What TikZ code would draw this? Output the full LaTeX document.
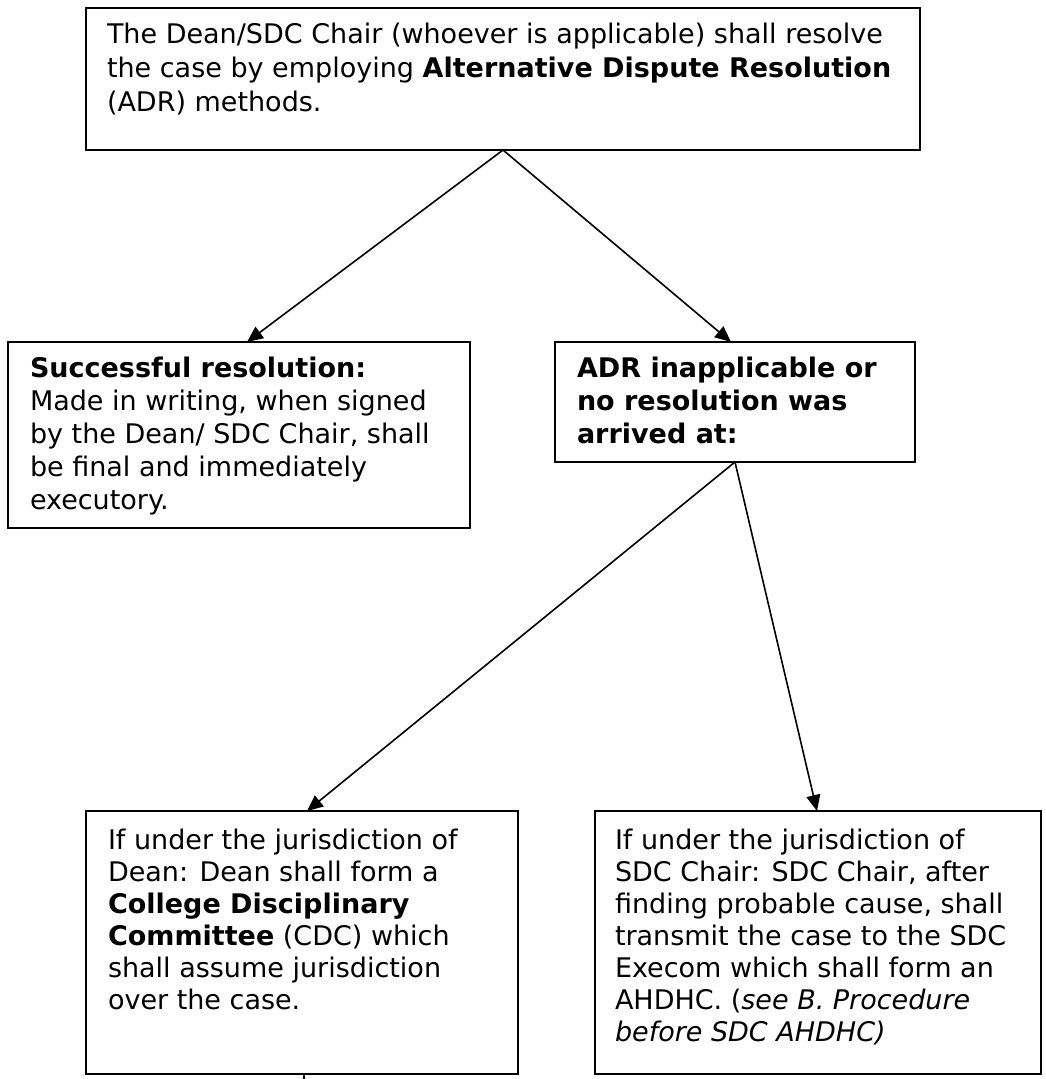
\documentclass[tikz,border=0pt]{standalone}
\usepackage{fontspec}
\setmainfont{DejaVu Sans}
\usetikzlibrary{arrows.meta,calc}
\begin{document}
\begin{tikzpicture}[x=1pt,y=-1pt,
  box/.style={draw, line width=1.8pt, rectangle, inner sep=0pt, outer sep=0pt},
  txt/.style={anchor=base west, inner sep=0pt, outer sep=0pt, align=left},
  conn/.style={line width=1.6pt, -{Triangle[length=16pt,width=14pt]}},
  plainline/.style={line width=1.6pt}]
\useasboundingbox (0,0) rectangle (1045,1079);
% boxes
\node[box, minimum width=834pt, minimum height=142pt] (top) at (503,79) {};
\node[box, minimum width=462pt, minimum height=186pt] (succ) at (239,435) {};
\node[box, minimum width=360pt, minimum height=120pt] (adr) at (735,402) {};
\node[box, minimum width=432pt, minimum height=263pt] (dean) at (302,942.5) {};
\node[box, minimum width=446pt, minimum height=263pt] (sdc) at (818,942.5) {};
% texts
\node[txt] (toptext) at (107,43) {\parbox[t]{810pt}{\fontsize{27}{34}\selectfont\raggedright
The Dean/SDC Chair (whoever is applicable) shall resolve\\
the case by employing \textbf{Alternative Dispute Resolution}\\
(ADR) methods.}};
\node[txt] (succtext) at (30,377) {\parbox[t]{440pt}{\fontsize{27}{33.2}\selectfont\raggedright
\textbf{Successful resolution:}\\
Made in writing, when signed\\
by the Dean/ SDC Chair, shall\\
be final and immediately\\
executory.}};
\node[txt] (adrtext) at (577,377) {\parbox[t]{340pt}{\fontsize{27}{33.2}\selectfont\raggedright
\textbf{ADR inapplicable or}\\
\textbf{no resolution was}\\
\textbf{arrived at:}}};
\node[txt] (deantext) at (108,849) {\parbox[t]{400pt}{\fontsize{27}{32}\selectfont\raggedright
If under the jurisdiction of\\
Dean: Dean shall form a\\
\textbf{College Disciplinary}\\
\textbf{Committee} (CDC) which\\
shall assume jurisdiction\\
over the case.}};
\node[txt] (sdctext) at (615,849) {\parbox[t]{420pt}{\fontsize{27}{32}\selectfont\raggedright
If under the jurisdiction of\\
SDC Chair: SDC Chair, after\\
finding probable cause, shall\\
transmit the case to the SDC\\
Execom which shall form an\\
AHDHC. (\textit{see B. Procedure}\\
\textit{before SDC AHDHC)}}};
% connectors
\draw[conn] (top.south) -- ([xshift=8pt]succ.north);
\draw[conn] (top.south) -- ([xshift=-4pt]adr.north);
\draw[conn] (adr.south) -- ([xshift=5pt]dean.north);
\draw[conn] (adr.south) -- ([xshift=-1pt]sdc.north);
\coordinate (tickend) at (304,1079);
\draw[plainline] (tickend |- dean.south) -- (tickend);
\end{tikzpicture}
\end{document}
